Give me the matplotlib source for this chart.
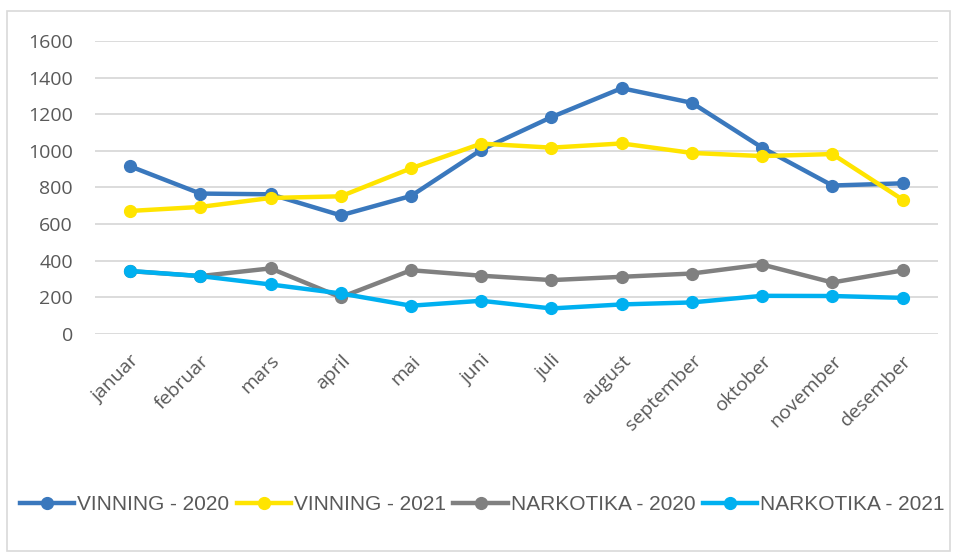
import matplotlib.pyplot as plt
from matplotlib.patches import Rectangle

months = ['januar', 'februar', 'mars', 'april', 'mai', 'juni', 'juli',
          'august', 'september', 'oktober', 'november', 'desember']

vinning_2020 = [915, 766, 762, 647, 753, 1005, 1184, 1342, 1262, 1017, 810, 822]
vinning_2021 = [671, 693, 742, 751, 904, 1039, 1017, 1040, 988, 971, 982, 733]
narkotika_2020 = [342, 315, 357, 199, 347, 317, 293, 311, 329, 378, 280, 346]
narkotika_2021 = [343, 315, 269, 220, 153, 180, 138, 160, 171, 207, 206, 196]

series = [
    ('VINNING - 2020', vinning_2020, '#3A78BD'),
    ('VINNING - 2021', vinning_2021, '#FFE400'),
    ('NARKOTIKA - 2020', narkotika_2020, '#808080'),
    ('NARKOTIKA - 2021', narkotika_2021, '#00B0F0'),
]

tick_font = 'Open Sans'
tick_color = '#595959'

fig = plt.figure(figsize=(9.57, 5.54), dpi=100)
ax = fig.add_axes([95 / 957, 1 - 333.7 / 554, (937.7 - 95) / 957, (333.7 - 41) / 554])

x = list(range(len(months)))
for label, vals, color in series:
    ax.plot(x, vals, color=color, linewidth=3.2, marker='o', markersize=8.5,
            label=label, clip_on=False, solid_joinstyle='round')

ax.set_xlim(-0.5, len(months) - 0.5)
ax.set_ylim(0, 1600)
ax.set_yticks(range(0, 1601, 200))
ax.yaxis.grid(True, color='#D9D9D9', linewidth=1.3)
ax.set_axisbelow(True)
for s in ax.spines.values():
    s.set_visible(False)
ax.tick_params(axis='both', length=0, labelcolor=tick_color)
ax.tick_params(axis='y', pad=16)

ax.set_xticks(x)
ax.set_xticklabels(months, rotation=45, ha='right', va='top',
                   rotation_mode='anchor', fontsize=14, family=tick_font)
ax.tick_params(axis='x', pad=13)
for t in ax.get_yticklabels():
    t.set_fontsize(14)
    t.set_family(tick_font)

handles, labels = ax.get_legend_handles_labels()
fig.legend(handles, labels, loc='center', bbox_to_anchor=(0.504, 1 - 505 / 554),
           ncol=4, frameon=False, handlelength=2.6, handletextpad=0.15,
           columnspacing=0.35, prop={'family': 'Liberation Sans', 'size': 15},
           labelcolor=tick_color)

fig.patches.append(Rectangle((7 / 957, 0.005), (950 - 7) / 957, 1 - 11 / 554 - 0.005,
                             transform=fig.transFigure, fill=False,
                             edgecolor='#D9D9D9', linewidth=1.2))

fig.savefig('out.png', dpi=100)
